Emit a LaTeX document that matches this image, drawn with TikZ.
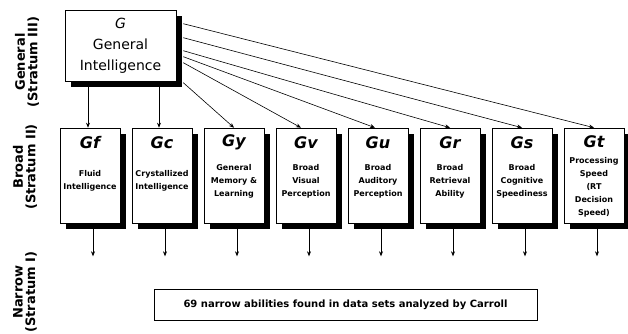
\documentclass[tikz,border=0pt]{standalone}
\usepackage{fontspec}
\setmainfont{DejaVu Sans}
\usetikzlibrary{shadows,calc,arrows.meta}

\tikzset{
  box/.style={draw, fill=white, line width=0.6pt, inner sep=0pt,
    drop shadow={shadow xshift=6pt, shadow yshift=-6pt, opacity=1, fill=black}},
  broad/.style={box, minimum width=60pt, minimum height=95pt},
  head/.style={font=\fontsize{16}{16}\selectfont\bfseries\itshape},
  desc/.style={font=\fontsize{8}{13}\selectfont\bfseries, align=center},
  stratum/.style={rotate=90, align=center, font=\fontsize{13}{12.5}\selectfont\bfseries},
  arr/.style={-{Stealth[length=5pt,width=4pt]}, line width=0.6pt}
}

\begin{document}
\begin{tikzpicture}[x=1pt, y=-1pt]
    \useasboundingbox (0,0) rectangle (628,333);
    % Strata
    \node[stratum] (s3) at (27,62) {General\\(Stratum III)};
    \node[stratum] (s2) at (25,167) {Broad\\(Stratum II)};
    \node[stratum] (s1) at (25,292) {Narrow\\(Stratum I)};
    % General
    \node[box, minimum width=111pt, minimum height=71pt, align=center,
      font=\fontsize{14}{21}\selectfont] (g) at (120.5,45.5) {\textit{G}\\General\\Intelligence};
    % Broad
    \node[broad] (gf) at (90,175.5) {};
    \node[broad] (gc) at (162,175.5) {};
    \node[broad] (gy) at (234,175.5) {};
    \node[broad] (gv) at (306,175.5) {};
    \node[broad] (gu) at (378,175.5) {};
    \node[broad] (gr) at (450,175.5) {};
    \node[broad] (gs) at (522,175.5) {};
    \node[broad] (gt) at (594,175.5) {};
    \node[head] (gf-h) at ([yshift=-15pt]gf.north) {Gf};
    \node[head] (gc-h) at ([yshift=-15pt]gc.north) {Gc};
    \node[head] (gy-h) at ([yshift=-15pt]gy.north) {Gy};
    \node[head] (gv-h) at ([yshift=-15pt]gv.north) {Gv};
    \node[head] (gu-h) at ([yshift=-15pt]gu.north) {Gu};
    \node[head] (gr-h) at ([yshift=-15pt]gr.north) {Gr};
    \node[head] (gs-h) at ([yshift=-15pt]gs.north) {Gs};
    \node[head] (gt-h) at ([yshift=-14pt]gt.north) {Gt};
    \node[desc] (gf-d) at ([yshift=-5.5pt]gf.center) {Fluid\\Intelligence};
    \node[desc] (gc-d) at ([yshift=-5.5pt]gc.center) {Crystallized\\Intelligence};
    \node[desc] (gy-d) at ([yshift=-5.5pt]gy.center) {General\\Memory \&\\Learning};
    \node[desc] (gv-d) at ([yshift=-5.5pt]gv.center) {Broad\\Visual\\Perception};
    \node[desc] (gu-d) at ([yshift=-5.5pt]gu.center) {Broad\\Auditory\\Perception};
    \node[desc] (gr-d) at ([yshift=-5.5pt]gr.center) {Broad\\Retrieval\\Ability};
    \node[desc] (gs-d) at ([yshift=-5.5pt]gs.center) {Broad\\Cognitive\\Speediness};
    \node[desc] (gt-d) at ([yshift=-12pt]gt.center) {Processing\\Speed\\(RT\\Decision\\Speed)};
    % Narrow
    \node[draw, line width=0.6pt, minimum width=383pt, minimum height=31pt,
      font=\fontsize{10}{12}\selectfont\bfseries] (narrow) at (345.5,304.5)
      {69 narrow abilities found in data sets analyzed by Carroll};
    % G -> broad
    \draw[arr] ($(g.south -| gf.north)+(-2,6)$) -- ([xshift=-2pt]gf.north);
    \draw[arr] ($(g.south -| gc.north)+(-3,6)$) -- ([xshift=-3pt]gc.north);
    \draw[arr] ($(g.north east)+(7,73)$) -- (gy.north);
    \draw[arr] ($(g.north east)+(7,53)$) -- ([xshift=-5pt]gv.north);
    \draw[arr] ($(g.north east)+(7,47)$) -- ([xshift=-3pt]gu.north);
    \draw[arr] ($(g.north east)+(7,41)$) -- (gr.north);
    \draw[arr] ($(g.north east)+(7,28)$) -- (gs.north);
    \draw[arr] ($(g.north east)+(7,14)$) -- (gt.north);
    % broad -> narrow
    \foreach \n in {gf,gc,gy,gv,gu,gr,gs,gt} {
      \coordinate (\n-n) at ($(\n.south)+(3,33)$);
      \draw[arr] ($(\n.south)+(3,6)$) -- (\n-n);
    }
\end{tikzpicture}
\end{document}
